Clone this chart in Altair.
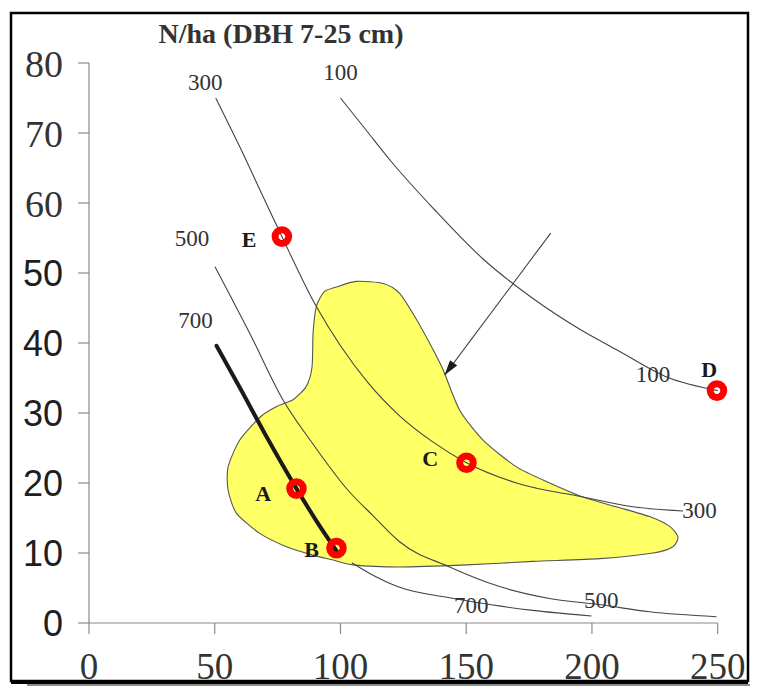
import altair as alt
import pandas as pd

# ---- data ----
x_ticks = [0, 50, 100, 150, 200, 250]
y_ticks = [0, 10, 20, 30, 40, 50, 60, 70, 80]

# yellow region outline (closed)
zone_x = [98.4, 106.3, 117, 123.5, 130, 136.9, 140.9, 147.4, 156.8, 170, 183.2, 196.4, 209.7, 222.9,
          230.9, 234.2, 232.2, 224.3, 203.1, 176.5, 150.1, 123.5, 105, 97.1, 89.1, 78.5, 67.9, 58.6,
          55.3, 55.3, 59.9, 68.3, 75, 81.1, 86.4, 88.7, 89.1, 90.4, 93.5]
zone_y = [48.0, 48.8, 48.5, 47.1, 43.5, 39.0, 36.1, 30.4, 26.1, 22.3, 20.0, 18.0, 16.6, 15.2,
          13.8, 12.3, 10.9, 10.0, 9.2, 8.8, 8.3, 8.0, 8.3, 9.0, 9.7, 10.9, 12.8, 15.7,
          19.0, 22.3, 26.1, 29.5, 31.0, 31.9, 33.8, 36.6, 41.4, 45.2, 47.3]

c100_x = [100, 110, 120, 137.5, 156.7, 176, 195, 210, 230, 250]
c100_y = [75, 70.5, 66, 59, 52, 46.5, 42, 39, 35.1, 33.2]

c300_x = [50.4, 60, 69.9, 76.7, 90.4, 100, 111, 123.5, 137, 150.1, 170, 196.4, 216.3, 236.2]
c300_y = [75.0, 68, 60.4, 55.2, 45.2, 39.6, 34.3, 29.6, 25.8, 22.9, 20.0, 18.0, 16.6, 16.0]

c500_x = [50.1, 63.9, 77.1, 89.4, 102.9, 113, 123.5, 143.4, 163.3, 183.2, 203.7, 222.9, 249.5]
c500_y = [50.9, 41.4, 31.9, 25.4, 19.0, 15.3, 11.6, 8.0, 5.2, 3.5, 2.6, 1.6, 0.9]

c700_x = [104.5, 112, 123.5, 143.4, 160, 176.5, 199.8]
c700_y = [8.6, 7.0, 5.1, 3.6, 2.6, 1.8, 1.0]

thick_x = [50.7, 60, 70, 82.5, 90.4, 99.0]
thick_y = [39.6, 33.6, 27.0, 19.2, 14.6, 10.0]

pt_x = [76.7, 82.5, 98.4, 150.1, 249.7]
pt_y = [55.2, 19.2, 10.7, 22.9, 33.2]

letters = ["E", "A", "B", "C", "D"]
letter_x = [63.7, 69.3, 88.5, 135.7, 246.6]
letter_y = [54.7, 18.4, 10.4, 23.4, 36.1]

clabels = ["300", "100", "500", "700", "100", "300", "500", "700"]
clabel_x = [46.2, 100, 41, 42.3, 224.3, 242.8, 203.7, 152]
clabel_y = [77.1, 78.6, 54.8, 43.1, 35.4, 16.0, 3.1, 2.4]

arrow_x = [183.6, 141.4]
arrow_y = [55.7, 35.4]
head_x = [143.2]
head_y = [36.3]

title_text = "N/ha (DBH 7-25 cm)"

# ---- layout (pixels) ----
W, H = 737, 668            # the view fills the whole black frame
LEFT, TOP = 78, 50         # where x=0 / y=80 sit inside the frame
INNER_W, INNER_H = 628.7, 560
kx = INNER_W / (x_ticks[-1] - x_ticks[0])
ky = INNER_H / (y_ticks[-1] - y_ticks[0])
x_dom_lo = x_ticks[0] - LEFT / kx
x_dom_hi = x_ticks[-1] + (W - LEFT - INNER_W) / kx
y_dom_hi = y_ticks[-1] + TOP / ky
y_dom_lo = y_ticks[0] - (H - TOP - INNER_H) / ky

xs = alt.Scale(domain=[x_dom_lo, x_dom_hi], nice=False, zero=False)
ys = alt.Scale(domain=[y_dom_lo, y_dom_hi], nice=False, zero=False)


def X(f="x"):
    return alt.X(f + ":Q", scale=xs, axis=None)


def Y(f="y"):
    return alt.Y(f + ":Q", scale=ys, axis=None)


AX = "#8a8a8a"
BASE = TOP + INNER_H       # pixel row of y=0
dummy = pd.DataFrame({"k": [0]})

# hand-built axes from the tick arrays
xt_df = pd.DataFrame({"x": x_ticks, "lab": [str(v) for v in x_ticks]})
yt_df = pd.DataFrame({"y": y_ticks, "lab": [str(v) for v in y_ticks]})
dom_df = pd.DataFrame({"x": [x_ticks[0]], "x2": [x_ticks[-1]], "y": [y_ticks[0]], "y2": [y_ticks[-1]]})

x_dom = alt.Chart(dom_df).mark_rule(color=AX, strokeWidth=1.2).encode(
    x=X(), x2="x2:Q", y=Y())
y_dom = alt.Chart(dom_df).mark_rule(color=AX, strokeWidth=1.2).encode(
    x=X(), y=Y(), y2="y2:Q")
x_tk = alt.Chart(xt_df).mark_rule(color=AX, strokeWidth=1.2).encode(
    x=X(), y=alt.value(BASE), y2=alt.value(BASE + 11))
y_tk = alt.Chart(yt_df).mark_rule(color=AX, strokeWidth=1.2).encode(
    y=Y(), x=alt.value(LEFT - 11), x2=alt.value(LEFT))
x_lab = alt.Chart(xt_df).mark_text(
    font="Liberation Serif", fontSize=37, color="#333333", baseline="alphabetic", align="center"
).encode(x=X(), y=alt.value(BASE + 56), text="lab:N")
y_lab_serif = alt.Chart(yt_df).transform_filter("datum.y >= 60").mark_text(
    font="Liberation Serif", fontSize=38, color="#333333", baseline="middle", align="right", dy=3
).encode(y=Y(), x=alt.value(LEFT - 26), text="lab:N")
y_lab_sans = alt.Chart(yt_df).transform_filter("datum.y < 60").mark_text(
    font="Liberation Sans", fontSize=36, color="#1e1e1e", baseline="middle", align="right", dy=2
).encode(y=Y(), x=alt.value(LEFT - 26), text="lab:N")

zone_df = pd.DataFrame({"x": zone_x, "y": zone_y, "i": range(len(zone_x))})
zone = alt.Chart(zone_df).mark_line(
    fill="#ffff66", stroke="#555555", strokeWidth=1.1, interpolate="cardinal-closed", tension=0.3
).encode(x=X(), y=Y(), order="i:Q")

rows = []
for name, cx, cy in [("100", c100_x, c100_y), ("300", c300_x, c300_y),
                     ("500", c500_x, c500_y), ("700", c700_x, c700_y)]:
    for k, (a, b) in enumerate(zip(cx, cy)):
        rows.append({"curve": name, "x": a, "y": b, "i": k})
curves_df = pd.DataFrame(rows)
curves = alt.Chart(curves_df).mark_line(
    color="#444444", strokeWidth=1.1, interpolate="monotone"
).encode(x=X(), y=Y(), detail="curve:N", order="i:Q")

thick_df = pd.DataFrame({"x": thick_x, "y": thick_y, "i": range(len(thick_x))})
thick = alt.Chart(thick_df).mark_line(
    color="#1a1a1a", strokeWidth=4, interpolate="monotone", strokeCap="round"
).encode(x=X(), y=Y(), order="i:Q")

arrow_df = pd.DataFrame({"x": arrow_x, "y": arrow_y, "i": [0, 1]})
arrow = alt.Chart(arrow_df).mark_line(color="#444444", strokeWidth=1.1).encode(
    x=X(), y=Y(), order="i:Q")

head_df = pd.DataFrame({"x": head_x, "y": head_y})
head = alt.Chart(head_df).mark_point(
    shape="M0,-1L0.6,1L-0.6,1Z", filled=True, color="#1a1a1a", size=225, angle=216.7, opacity=1
).encode(x=X(), y=Y())

pts_df = pd.DataFrame({"x": pt_x, "y": pt_y})
pts = alt.Chart(pts_df).mark_point(
    shape="circle", filled=False, stroke="#ff0000", strokeWidth=7, size=185, opacity=1
).encode(x=X(), y=Y())

let_df = pd.DataFrame({"x": letter_x, "y": letter_y, "t": letters})
lets = alt.Chart(let_df).mark_text(
    font="Liberation Serif", fontSize=22, fontWeight="bold", color="#1a1a1a"
).encode(x=X(), y=Y(), text="t:N")

cl_df = pd.DataFrame({"x": clabel_x, "y": clabel_y, "t": clabels})
cls = alt.Chart(cl_df).mark_text(
    font="Liberation Serif", fontSize=23, color="#333333"
).encode(x=X(), y=Y(), text="t:N")

title = alt.Chart(dummy).mark_text(
    font="Liberation Serif", fontSize=28, fontWeight="bold", color="#333333",
    baseline="alphabetic", align="center"
).encode(x=alt.value(LEFT + 192), y=alt.value(TOP - 20), text=alt.value(title_text))

frame = alt.Chart(dummy).mark_rect(
    fill=None, stroke="#000000", strokeWidth=2.5
).encode(x=alt.value(0), x2=alt.value(W), y=alt.value(0), y2=alt.value(H))

bottom_bar = alt.Chart(dummy).mark_rule(color="#000000", strokeWidth=4).encode(
    x=alt.value(0), x2=alt.value(W), y=alt.value(H + 1))
shadow = alt.Chart(dummy).mark_rule(color="#8c8c8c", strokeWidth=2).encode(
    x=alt.value(16), x2=alt.value(W + 2), y=alt.value(H + 4))

chart = alt.layer(
    x_dom, y_dom, x_tk, y_tk, x_lab, y_lab_serif, y_lab_sans,
    zone, curves, thick, arrow, head, pts, lets, cls, title, frame, bottom_bar, shadow
).properties(
    width=W, height=H,
    autosize=alt.AutoSizeParams(type="none"),
    padding={"left": 3, "top": 5, "right": 2, "bottom": 5},
    background="white",
).configure_view(
    stroke=None
)

chart.save("out.html", embed_options={"renderer": "svg", "actions": False})
